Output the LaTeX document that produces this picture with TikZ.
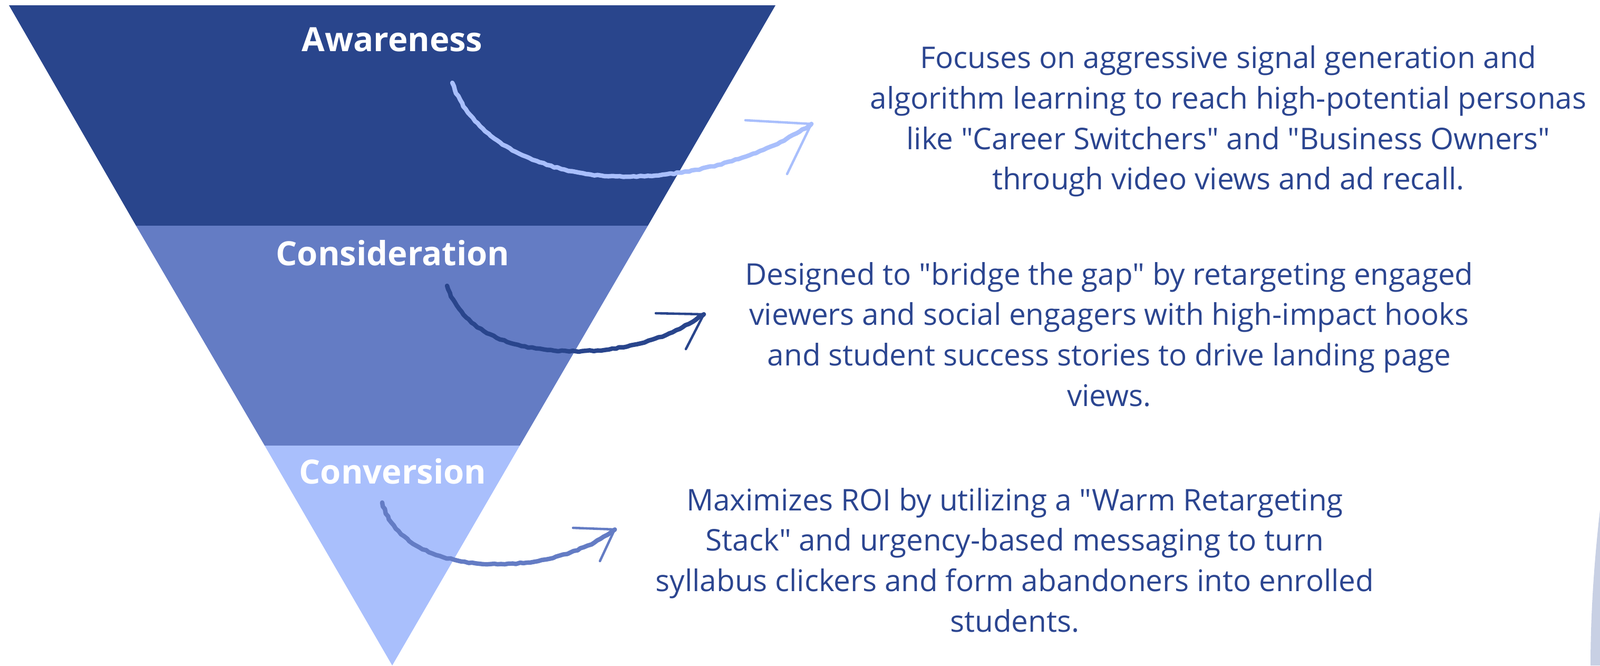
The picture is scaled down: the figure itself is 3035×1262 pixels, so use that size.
\documentclass[tikz,border=0pt]{standalone}
\usepackage{fontspec}
\setmainfont{Open Sans}[Ligatures=TeXOff]
\usepackage{tikz}
\usepackage{xcolor}
\usetikzlibrary{positioning, decorations.pathmorphing}
\definecolor{funnelTop}{HTML}{29458C}
\definecolor{funnelMid}{HTML}{647CC4}
\definecolor{funnelLow}{HTML}{A9BFFC}
\definecolor{descText}{HTML}{2B4590}
\definecolor{ghostBlue}{HTML}{C8D0E4}
\tikzset{
  stage/.style={anchor=base, text=white, font=\fontsize{18}{22}\selectfont\bfseries},
  desc/.style={align=center, text=descText, font=\fontsize{16.1}{21.8}\selectfont},
  sketch/.style={line width=2.4pt, line cap=round, line join=round,
    decorate, decoration={random steps, segment length=2pt, amplitude=0.3pt}},
  barb/.style={line width=1.3pt, line cap=round}
}

\begin{document}
\begin{tikzpicture}[x=0.01cm, y=-0.01cm]
\useasboundingbox (0,0) rectangle (3035,1262);
% funnel bands
\fill[funnelTop] (17,10) -- (1471,10) -- (1229,428) -- (258,428) -- cycle;
\fill[funnelMid] (258,428) -- (1229,428) -- (986,845) -- (502,845) -- cycle;
\fill[funnelLow] (502,845) -- (986,845) -- (744,1262) -- cycle;
% edge of a shape cut off at the right
\fill[ghostBlue] (3035,967) .. controls (3022,1080) and (3017,1180) .. (3017,1262) -- (3035,1262) -- cycle;

\node[stage] (aware) at (744,97) {Awareness};
\node[stage] (consid) at (745,503) {Consideration};
\node[stage] (convert) at (745,917) {Conversion};

\node[desc] (awareText) at (2330,230) {Focuses on aggressive signal generation and\\
algorithm learning to reach high-potential personas\\
like "Career Switchers" and "Business Owners"\\
through video views and ad recall.};
\node[desc] (considText) at (2104,634) {Designed to "bridge the gap" by retargeting engaged\\
viewers and social engagers with high-impact hooks\\
and student success stories to drive landing page\\
views.};
\node[desc] (convertText) at (1925,1062) {Maximizes ROI by utilizing a "Warm Retargeting\\
Stack" and urgency-based messaging to turn\\
syllabus clickers and form abandoners into enrolled\\
students.};

% hand drawn arrows
\coordinate (awTail) at (858,157);
\coordinate (awTip) at (1539,235);
\draw[sketch, funnelLow] (awTail) .. controls (900,280) and (1050,335) .. (1187,335)
  .. controls (1330,335) and (1460,290) .. (awTip);
\draw[barb, funnelLow] (awTip) -- ++(-125,-7);
\draw[barb, funnelLow] (awTip) -- ++(-46,95);

\coordinate (coTail) at (848,542);
\coordinate (coTip) at (1335,596);
\draw[sketch, funnelTop] (coTail) .. controls (880,640) and (990,666) .. (1091,666)
  .. controls (1200,666) and (1280,635) .. (coTip);
\draw[barb, funnelTop] (coTip) -- ++(-91,-2);
\draw[barb, funnelTop] (coTip) -- ++(-34,66);

\coordinate (cvTail) at (725,953);
\coordinate (cvTip) at (1166,1004);
\draw[sketch, funnelMid] (cvTail) .. controls (750,1040) and (850,1070) .. (944,1070)
  .. controls (1040,1070) and (1120,1040) .. (cvTip);
\draw[barb, funnelMid] (cvTip) -- ++(-79,-3);
\draw[barb, funnelMid] (cvTip) -- ++(-28,60);
\end{tikzpicture}
\end{document}
